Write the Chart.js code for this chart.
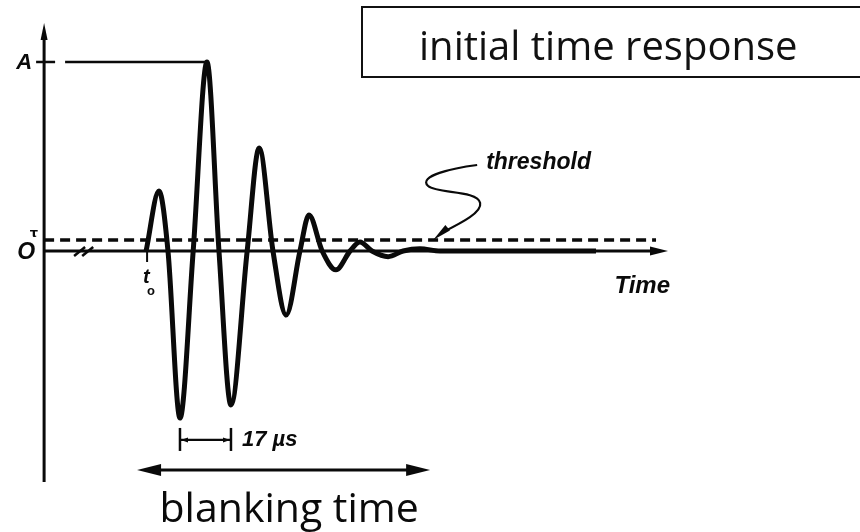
<!DOCTYPE html>
<html>
<head>
<meta charset="utf-8">
<script src="https://cdn.jsdelivr.net/npm/chart.js@4.4.1/dist/chart.umd.min.js"></script>
<style>
  html, body { margin: 0; padding: 0; background: #fff; }
  #wrap { position: relative; width: 860px; height: 532px; overflow: hidden; }
  #title {
    position: absolute; left: 361px; top: 6px; width: 520px; height: 72px;
    box-sizing: border-box; border: 2px solid #111; padding-left: 56px;
    font-family: 'Open Sans', sans-serif; font-size: 40px; line-height: 74px; color: #111;
  }
</style>
</head>
<body>
<div id="wrap">
  <canvas id="chart"></canvas>
  <div id="title">initial time response</div>
</div>
<script>
// time in µs after t0, amplitude relative to the peak A
var waveTime = [0, 4.3, 7.3, 11.3, 15.7, 20.3, 24.3, 28.3, 33.7, 37.7, 42.3, 46.7, 51.3, 54.3, 58.7, 63.3, 68, 71.3, 75.3, 80.7, 85.7, 91.3, 98, 150];
var waveAmp  = [0, 0.317, 0, -0.884, 0, 1.0, 0, -0.815, 0, 0.545, 0, -0.339, 0, 0.19, 0, -0.10, 0, 0.048, 0, -0.03, 0, 0.012, 0, 0];
var threshold = 0.058;
var peakA = 1.0;
var axisStart = -34;
var axisEnd = 174;
var thresholdEnd = 170;
var yAxisRange = [1.15, -1.222];
var blanking = [-3, 94.7];

(function () {
  'use strict';

  var ink = '#0a0a0a';
  var wave = waveTime.map(function (t, i) { return { x: t, y: waveAmp[i] }; });

  function line(c, x1, y1, x2, y2, w) {
    c.beginPath();
    c.lineWidth = w;
    c.moveTo(x1, y1);
    c.lineTo(x2, y2);
    c.stroke();
  }

  // filled arrowhead with tip at (x, y) pointing along angle a
  function head(c, x, y, a, len, half) {
    c.save();
    c.translate(x, y);
    c.rotate(a);
    c.beginPath();
    c.moveTo(0, 0);
    c.lineTo(-len, -half);
    c.lineTo(-len, half);
    c.closePath();
    c.fill();
    c.restore();
  }

  function text(c, s, x, y, font, align) {
    c.font = font;
    c.textAlign = align || 'left';
    c.textBaseline = 'middle';
    c.fillText(s, x, y);
  }

  var decor = {
    id: 'decor',
    afterDatasetsDraw: function (chart) {
      var c = chart.ctx;
      var X = function (t) { return chart.scales.x.getPixelForValue(t); };
      var Y = function (v) { return chart.scales.y.getPixelForValue(v); };
      var bi = 'italic bold ';
      c.save();
      c.strokeStyle = ink;
      c.fillStyle = ink;
      c.lineCap = 'butt';

      var ax = X(axisStart), y0 = Y(0);
      // axis arrowheads
      head(c, ax, Y(1.206), -Math.PI / 2, 17, 3.5);
      head(c, X(axisEnd), y0, 0, 18, 4.5);
      // A tick
      line(c, ax - 8, Y(peakA), ax + 11, Y(peakA), 2.5);
      // axis break marks
      line(c, X(-22) - 6, y0 + 5, X(-22) + 5, y0 - 4, 2.5);
      line(c, X(-19.3) - 6, y0 + 5, X(-19.3) + 5, y0 - 4, 2.5);
      // t0 tick
      line(c, X(0) + 1, y0, X(0) + 1, y0 + 11, 2);

      text(c, 'A', ax - 12, Y(peakA) + 1, bi + '22px "Liberation Sans"', 'right');
      text(c, 'O', ax - 9, y0 + 2, bi + '23px "Liberation Sans"', 'right');
      text(c, 'τ', ax - 6, Y(threshold) - 6, 'bold 13px "DejaVu Sans"', 'right');
      text(c, 't', X(0) - 3, y0 + 27, bi + '20px "Liberation Sans"', 'left');
      text(c, 'o', X(0) + 1, y0 + 40, 'bold 13px "Liberation Sans"', 'left');
      text(c, 'Time', X(axisEnd) + 2, y0 + 35, bi + '24px "Liberation Sans"', 'right');

      // threshold pointer
      var tx = X(95.7), ty = Y(threshold);
      c.lineWidth = 2.2;
      c.beginPath();
      c.moveTo(tx + 44, ty - 75);
      c.bezierCurveTo(tx + 20, ty - 72, tx - 16, ty - 64, tx - 5, ty - 54);
      c.bezierCurveTo(tx + 4, ty - 46, tx + 44, ty - 50, tx + 47, ty - 37);
      c.bezierCurveTo(tx + 49, ty - 28, tx + 30, ty - 18, tx + 10, ty - 8);
      c.stroke();
      head(c, tx, ty, Math.atan2(11, -13), 19, 3.5);
      text(c, 'threshold', tx + 53, ty - 77, bi + '23px "Liberation Sans"', 'left');

      // 17 µs bracket between the first two troughs
      var b1 = X(waveTime[3]), b2 = X(waveTime[7]), by = Y(-1.0);
      line(c, b1, by - 12, b1, by + 11, 2.5);
      line(c, b2, by - 12, b2, by + 11, 2.5);
      line(c, b1, by, b2, by, 2.2);
      head(c, b1 + 1, by, Math.PI, 7, 2.5);
      head(c, b2 - 1, by, 0, 7, 2.5);
      text(c, '17 µs', b2 + 11, by, bi + '22px "Liberation Sans"', 'left');

      // blanking time arrow
      var l = X(blanking[0]), r = X(blanking[1]), ay = Y(-1.159);
      line(c, l + 10, ay, r - 10, ay, 3);
      head(c, l, ay, Math.PI, 24, 6);
      head(c, r, ay, 0, 24, 6);
      text(c, 'blanking time', X(47.7), Y(-1.354) + 3, '41px "Open Sans"', 'center');
      c.restore();
    }
  };

  new Chart(document.getElementById('chart'), {
    type: 'line',
    data: {
      datasets: [
        { data: [{ x: axisStart, y: 0 }, { x: axisEnd - 3, y: 0 }], borderColor: ink, borderWidth: 3 },
        { data: [{ x: axisStart, y: yAxisRange[0] }, { x: axisStart, y: yAxisRange[1] }], borderColor: ink, borderWidth: 3 },
        { data: [{ x: axisStart, y: threshold }, { x: thresholdEnd, y: threshold }], borderColor: ink, borderWidth: 3.5, borderDash: [10, 6] },
        { data: [{ x: -27, y: peakA }, { x: waveTime[5], y: peakA }], borderColor: ink, borderWidth: 2.5 },
        { data: wave, borderColor: ink, borderWidth: 5, cubicInterpolationMode: 'monotone', borderJoinStyle: 'round' }
      ]
    },
    options: {
      animation: false,
      responsive: true,
      maintainAspectRatio: false,
      layout: { padding: 0 },
      elements: { point: { radius: 0 } },
      plugins: { legend: { display: false }, tooltip: { enabled: false } },
      scales: {
        x: { type: 'linear', min: -48.7, max: 238, display: false },
        y: { min: -1.487, max: 1.328, display: false }
      }
    },
    plugins: [decor]
  });
})();
</script>
</body>
</html>
